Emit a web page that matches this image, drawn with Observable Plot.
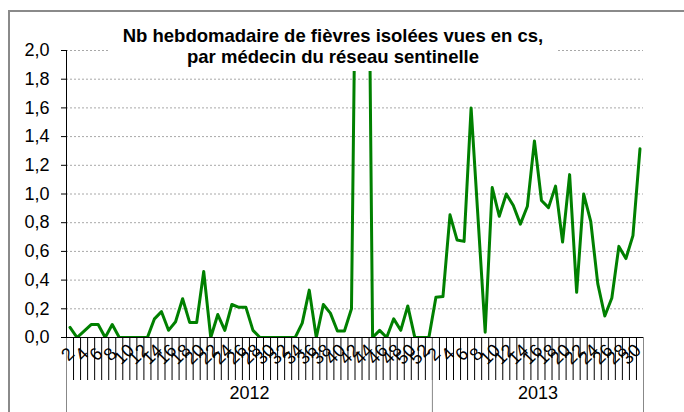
<!DOCTYPE html>
<html>
<head>
<meta charset="utf-8">
<script src="https://cdn.jsdelivr.net/npm/d3@7"></script>
<script src="https://cdn.jsdelivr.net/npm/@observablehq/plot@0.6"></script>
<style>
  body { margin: 0; background: white; color: black; font-family: "Liberation Sans", Arial, sans-serif; }
  #wrap { position: relative; width: 684px; height: 412px; overflow: hidden; }
  #frame { position: absolute; left: 8px; top: 10px; width: 700px; height: 500px;
           border-top: 2px solid #8a8a8a; border-left: 2px solid #8a8a8a; box-sizing: border-box; }
  #chart { position: absolute; left: 0; top: 0; }
  #title { position: absolute; left: 108px; top: 20px; width: 450px; height: 51px; background: white;
           text-align: center; font-weight: bold; font-size: 18.5px; line-height: 21px; padding-top: 5px;
           box-sizing: border-box; white-space: nowrap; }
</style>
</head>
<body>
<div id="wrap">
  <div id="frame"></div>
  <div id="chart"></div>
  <div id="title">Nb hebdomadaire de fièvres isolées vues en cs,<br>par médecin du réseau sentinelle</div>
</div>
<script>
const years = ["2012", "2013"];
const values2012 = [0.07, 0, 0.045, 0.09, 0.09, 0, 0.09, 0, 0, 0, 0, 0, 0.13, 0.18, 0.05, 0.11, 0.27, 0.105, 0.105, 0.46,
  0, 0.16, 0.05, 0.23, 0.21, 0.21, 0.05, 0, 0, 0, 0, 0, 0, 0.10, 0.33, 0, 0.23, 0.17, 0.045, 0.045,
  0.20, 4.5, 5.2, 0, 0.05, 0, 0.13, 0.05, 0.22, 0, 0, 0];
const values2013 = [0.28, 0.285, 0.855, 0.68, 0.67, 1.60, 0.82, 0.037, 1.045, 0.845, 1.0, 0.92, 0.79, 0.915, 1.37,
  0.955, 0.905, 1.055, 0.665, 1.135, 0.315, 1.0, 0.81, 0.375, 0.15, 0.275, 0.635, 0.55, 0.71, 1.315];
const yTicks = [0, 0.2, 0.4, 0.6, 0.8, 1.0, 1.2, 1.4, 1.6, 1.8, 2.0];

const rows = [];
values2012.forEach((v, i) => rows.push({year: years[0], week: i + 1, v}));
values2013.forEach((v, i) => rows.push({year: years[1], week: i + 1, v}));
rows.forEach((d, i) => d.idx = i);
const n = rows.length;
const labelRows = rows.filter(d => d.week % 2 === 0);
const yearRows = [
  {text: years[0], x: values2012.length / 2},
  {text: years[1], x: values2012.length + values2013.length / 2}
];

const chart = Plot.plot({
  width: 684, height: 412,
  marginLeft: 66, marginRight: 41, marginTop: 50, marginBottom: 75,
  x: {domain: [0, n], axis: null},
  y: {domain: [0, 2], axis: null},
  style: {fontFamily: "'Liberation Sans', Arial, sans-serif", fontSize: "18px", background: "transparent", color: "black"},
  marks: [
    Plot.ruleY(yTicks.slice(1), {stroke: "#a8a8a8", strokeDasharray: "2,2"}),
    Plot.axisY({ticks: yTicks, tickFormat: d => d.toFixed(1).replace(".", ","), tickSize: 5, tickPadding: 12, fontSize: 18, stroke: "black", label: null}),
    Plot.axisX({ticks: d3.range(0, n + 1), tickSize: 43, tickFormat: () => "", stroke: "black", label: null}),
    Plot.axisX({ticks: [0, values2012.length, n], tickSize: 75, tickFormat: () => "", stroke: "#888", label: null}),
    Plot.text(labelRows, {x: d => d.idx + 0.5, text: d => String(d.week), frameAnchor: "bottom", dy: 21, dx: -5, rotate: -45, fontSize: 18, fill: "black"}),
    Plot.text(yearRows, {x: "x", text: "text", frameAnchor: "bottom", dy: 61, fontSize: 18, fill: "black"}),
    Plot.line(rows, {x: d => d.idx + 0.5, y: "v", stroke: "#008000", strokeWidth: 3, clip: true}),
    Plot.ruleX([0], {stroke: "black"}),
    Plot.ruleY([0], {stroke: "black"})
  ]
});
document.getElementById("chart").appendChild(chart);
</script>
</body>
</html>
